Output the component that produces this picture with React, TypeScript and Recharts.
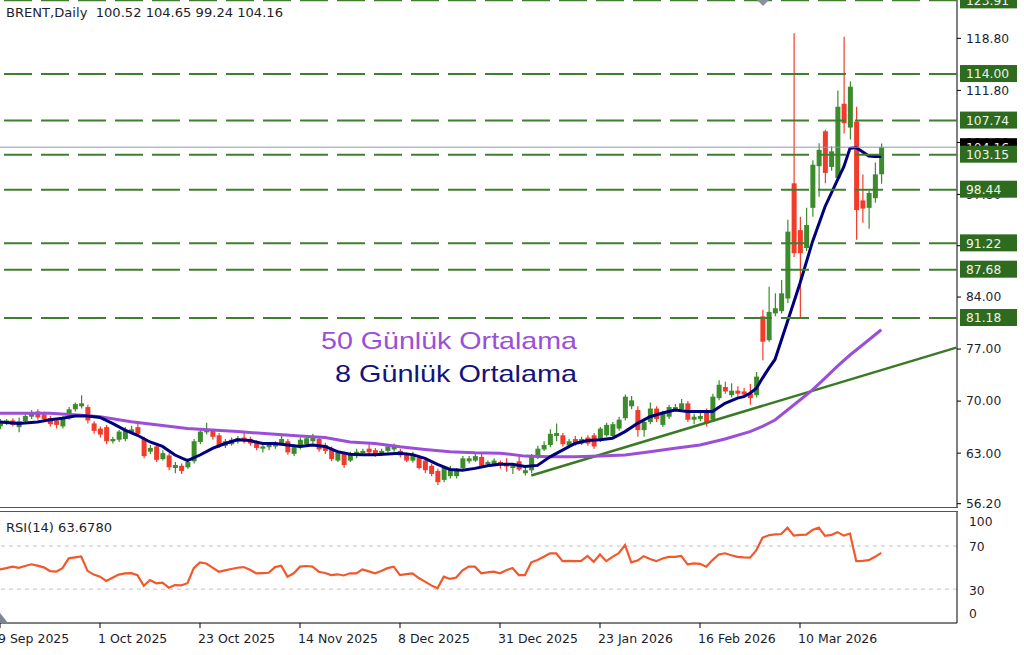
import React from 'react';
import { ComposedChart, Bar, Line, XAxis, YAxis, ReferenceLine } from 'recharts';

// daily candles, 9 Sep 2025 .. 27 Mar 2026 (bar index = position)
const opens = [
  66.6, 67.0, 67.4, 66.5, 67.3, 67.9, 68.6, 68.2, 67.7, 67.4, 66.6, 67.7, 68.9, 69.3, 69.2, 67.0, 66.3, 66.5, 64.6, 64.8,
  64.9, 65.8, 66.5, 64.9, 63.2, 63.9, 62.2, 62.7, 61.0, 61.3, 61.1, 61.9, 64.5, 65.8, 66.0, 65.4, 64.0, 64.2, 64.6, 65.1,
  64.9, 64.4, 63.6, 63.8, 63.9, 64.3, 64.6, 62.9, 63.8, 64.2, 64.6, 64.9, 64.1, 63.6, 62.0, 62.9, 62.0, 62.6, 63.0, 63.6,
  63.4, 62.8, 63.3, 63.5, 63.3, 62.8, 62.0, 62.4, 62.0, 61.3, 60.6, 59.4, 59.9, 59.9, 61.0, 61.9, 62.0, 62.5, 61.5, 61.5,
  61.8, 61.6, 61.0, 61.9, 60.3, 60.7, 62.4, 63.5, 64.1, 65.3, 65.4, 64.0, 64.9, 64.3, 65.1, 65.4, 64.8, 65.4, 65.3, 66.3,
  67.7, 69.3, 68.8, 66.1, 67.2, 69.0, 66.8, 67.9, 68.9, 68.9, 69.7, 67.5, 67.6, 68.6, 67.5, 70.4, 71.9, 70.8, 71.4, 71.3,
  71.0, 70.8, 81.4, 78.2, 81.8, 82.1, 83.8, 99.3, 93.0, 90.6, 96.0, 101.6, 106.3, 101.5, 100.0, 110.0, 106.8, 107.6, 97.0, 96.0,
  97.3, 100.52,
];
const highs = [
  67.6, 67.6, 67.7, 67.8, 68.4, 68.8, 68.9, 68.6, 68.0, 67.7, 68.0, 69.2, 69.8, 70.8, 69.5, 67.3, 66.6, 66.8, 65.2, 66.1,
  66.5, 66.7, 67.3, 65.2, 64.1, 64.2, 63.4, 63.0, 61.8, 61.6, 62.3, 64.9, 66.2, 67.1, 66.2, 65.7, 64.9, 65.1, 65.3, 65.8,
  65.2, 64.7, 64.2, 64.4, 64.6, 65.6, 64.9, 64.2, 65.1, 65.3, 65.6, 65.2, 64.4, 63.9, 63.4, 63.2, 63.2, 63.6, 63.6, 64.3,
  63.7, 63.6, 64.2, 64.3, 63.6, 63.1, 63.2, 62.7, 62.3, 61.6, 60.9, 61.3, 61.3, 61.0, 62.6, 62.6, 63.0, 63.0, 62.0, 62.3,
  62.0, 62.3, 61.6, 62.6, 61.3, 62.9, 64.0, 64.6, 66.2, 67.0, 65.7, 64.9, 65.3, 65.2, 65.4, 65.7, 66.5, 67.1, 67.2, 67.9,
  70.9, 70.7, 69.3, 67.6, 69.8, 69.3, 68.7, 69.5, 69.6, 70.3, 70.0, 68.3, 68.6, 69.0, 71.0, 72.8, 72.6, 72.4, 72.0, 71.8,
  72.3, 73.9, 82.3, 85.4, 84.5, 86.3, 94.4, 119.5, 94.8, 96.0, 102.4, 104.7, 106.5, 104.3, 111.8, 119.0, 113.0, 109.6, 100.5, 98.3,
  102.1, 104.65,
];
const lows = [
  66.2, 66.8, 66.6, 65.8, 67.0, 67.6, 67.5, 67.4, 66.6, 66.3, 66.3, 67.5, 68.6, 69.0, 67.0, 65.6, 65.1, 64.2, 64.3, 64.5,
  64.6, 65.6, 65.3, 62.3, 62.9, 61.8, 62.0, 60.7, 60.3, 60.2, 60.9, 61.6, 64.2, 65.5, 64.8, 63.7, 63.7, 64.0, 64.3, 64.3,
  64.0, 63.4, 63.1, 63.4, 63.6, 64.1, 62.8, 62.6, 63.5, 63.9, 64.3, 63.2, 62.9, 61.9, 61.8, 61.0, 61.8, 62.3, 62.7, 62.9,
  62.5, 62.6, 63.1, 63.2, 62.4, 61.8, 61.7, 60.8, 60.3, 59.9, 58.7, 59.1, 59.6, 59.6, 60.8, 61.6, 61.8, 61.0, 61.2, 61.3,
  60.9, 60.5, 60.2, 60.6, 60.0, 60.3, 62.2, 63.3, 63.8, 64.6, 63.9, 63.7, 64.0, 64.1, 64.0, 63.6, 64.5, 65.2, 65.0, 66.0,
  67.4, 68.9, 65.2, 65.2, 66.9, 67.2, 66.5, 67.6, 68.6, 68.6, 67.2, 66.9, 67.3, 66.6, 67.2, 70.1, 71.0, 70.5, 70.6, 70.5,
  69.5, 70.5, 75.5, 78.0, 81.4, 81.8, 83.2, 89.4, 81.3, 90.2, 94.8, 97.5, 99.3, 101.0, 100.0, 106.0, 105.2, 91.7, 94.0, 93.2,
  96.7, 99.24,
];
const closes = [
  67.3, 67.4, 66.8, 67.3, 68.0, 68.5, 67.8, 67.6, 66.9, 66.8, 67.7, 68.9, 69.6, 69.7, 67.4, 66.0, 65.5, 64.6, 64.9, 65.9,
  66.0, 66.2, 65.6, 62.6, 63.7, 62.1, 63.0, 61.1, 61.4, 60.6, 61.8, 64.6, 65.9, 66.1, 65.2, 64.0, 64.6, 64.8, 65.0, 64.6,
  64.3, 63.7, 63.9, 64.1, 64.4, 64.9, 63.1, 63.8, 64.8, 65.0, 65.2, 63.5, 63.3, 62.2, 63.1, 61.4, 62.9, 63.2, 63.3, 63.1,
  62.8, 63.3, 63.9, 64.1, 62.7, 62.0, 62.9, 61.0, 60.7, 60.2, 59.1, 61.0, 60.8, 60.6, 62.3, 62.3, 62.6, 61.3, 61.8, 62.0,
  61.4, 61.2, 61.3, 60.8, 60.7, 62.6, 63.6, 64.1, 65.6, 65.7, 64.2, 64.6, 64.3, 64.9, 64.3, 63.9, 66.3, 66.8, 66.9, 67.5,
  70.6, 70.1, 66.1, 67.2, 69.0, 67.6, 68.4, 69.2, 69.2, 69.7, 67.5, 67.9, 68.0, 67.0, 70.6, 72.2, 71.3, 71.4, 71.0, 70.9,
  70.4, 73.3, 78.0, 82.0, 82.5, 84.5, 92.8, 89.9, 89.9, 93.7, 101.8, 103.8, 100.7, 103.6, 109.6, 107.4, 112.3, 95.7, 95.9, 98.0,
  100.5, 104.16,
];

const rsiValues = [
  48.3, 49.5, 50.9, 49.8, 51.5, 53.1, 51.8, 50.2, 46.8, 46.2, 49.5, 58.6, 59.5, 60.3, 47.0, 43.5, 41.6, 37.6, 40.5, 43.5,
  44.7, 44.9, 43.0, 33.2, 38.5, 35.4, 36.0, 31.4, 33.8, 33.6, 35.5, 49.5, 54.9, 53.8, 50.0, 46.2, 47.5, 48.7, 49.9, 50.5,
  48.0, 44.7, 44.9, 45.2, 50.5, 51.8, 41.6, 44.7, 50.9, 51.5, 51.0, 46.2, 45.0, 43.0, 43.8, 42.7, 44.7, 44.6, 48.3, 46.5,
  44.7, 46.8, 49.5, 50.9, 43.0, 43.9, 44.7, 40.3, 37.0, 33.5, 30.8, 41.6, 39.5, 40.8, 47.5, 50.9, 50.9, 44.7, 45.5, 46.2,
  44.7, 47.5, 49.6, 43.1, 43.1, 54.9, 57.1, 60.0, 63.3, 63.3, 56.0, 56.2, 56.0, 56.3, 60.9, 55.4, 62.2, 56.0, 60.0, 63.3,
  71.0, 54.9, 56.5, 60.6, 58.0, 56.0, 58.5, 60.0, 60.0, 60.9, 53.0, 53.9, 53.5, 50.8, 57.0, 62.2, 63.3, 61.5, 60.0, 59.5,
  59.2, 66.0, 77.8, 80.0, 80.9, 81.2, 87.1, 79.7, 80.3, 80.5, 84.9, 87.1, 79.4, 80.3, 82.9, 79.7, 81.6, 56.0, 56.2, 56.9,
  60.0, 63.68,
];

// moving averages at these bars
const ma8Bars = [
  0, 3, 6, 8, 10, 12, 14, 16, 18, 20, 22, 24, 26, 28, 30, 32, 34, 36, 38, 40, 42, 44, 46, 48, 50, 52, 54, 56, 58, 60,
  62, 64, 66, 68, 70, 72, 74, 76, 78, 80, 82, 84, 86, 88, 90, 92, 94, 96, 98, 100, 102, 104, 106, 108, 110, 112, 114, 116,
  118, 119, 120, 121, 122, 123, 124, 126, 128, 130, 132, 134, 135, 136, 137, 138, 139, 140, 141,
];
const ma8Values = [
  67.2, 67.0, 67.2, 67.5, 67.7, 68.0, 68.0, 67.8, 67.0, 66.1, 65.4, 64.5, 63.9, 62.75, 62.0, 62.75, 63.65, 64.3, 64.8, 64.7,
  64.3, 64.3, 64.1, 63.9, 64.1, 63.9, 63.2, 62.85, 62.8, 62.8, 62.9, 63.0, 62.8, 62.3, 61.5, 60.8, 60.7, 60.95, 61.3, 61.5,
  61.5, 61.2, 61.35, 62.5, 63.4, 64.3, 64.7, 64.8, 65.0, 65.9, 67.0, 67.9, 68.4, 68.8, 68.6, 68.6, 68.6, 69.7,
  70.4, 70.6, 71.05, 71.7, 73.1, 74.4, 75.6, 80.7, 85.85, 91.45, 96.15, 99.75, 101.5, 104.0, 104.1, 103.55, 102.97, 102.9, 102.9,
];
const ma50Bars = [
  0, 8, 13, 16, 21, 30, 38, 48, 52, 56, 60, 64, 68, 72, 76, 80, 84, 88, 92, 96, 100, 104, 108, 112, 116, 120, 122, 124,
  126, 128, 130, 132, 134, 136, 138, 141,
];
const ma50Values = [
  68.36, 68.36, 68.1, 67.9, 67.23, 66.3, 65.9, 65.3, 65.1, 64.5, 64.3, 63.85, 63.5, 63.2, 63.06, 63.0, 62.6, 62.5, 62.5,
  62.6, 62.75, 63.2, 63.65, 64.1, 64.9, 65.9, 66.6, 67.46, 68.8, 70.15, 71.5, 73.1, 74.7, 76.2, 77.55, 79.6,
];
const trendBars = [85, 153];
const trendValues = [60.0, 77.2];

const levels = [123.91, 114.0, 107.74, 103.15, 98.44, 91.22, 87.68, 81.18];
const lastPrice = 104.16;
const priceTicks = [56.2, 63, 70, 77, 84, 90.9, 97.8, 104.8, 111.8, 118.8];
const rsiTicks = [0, 30, 70, 100];
const dateTickBars = [0, 16, 32, 48, 64, 80, 96, 112, 128];
const dateTickLabels = [
  '9 Sep 2025', '1 Oct 2025', '23 Oct 2025', '14 Nov 2025', '8 Dec 2025',
  '31 Dec 2025', '23 Jan 2026', '16 Feb 2026', '10 Mar 2026',
];

const UP = '#3c8c2c';
const DOWN = '#f33b2b';
const LEVEL = '#3f7f2f';
const TAG = '#2f6b1f';
const AXIS_FONT = '"DejaVu Sans", Verdana, sans-serif';
const X_DOMAIN = [0, 153.12];
const Y_DOMAIN = [55.62, 123.96];

const rows = Array.from({ length: 154 }, (_, i) => {
  const m8 = ma8Bars.indexOf(i);
  const m50 = ma50Bars.indexOf(i);
  const t = trendBars.indexOf(i);
  return {
    i,
    open: opens[i],
    high: highs[i],
    low: lows[i],
    close: closes[i],
    range: i < closes.length ? [lows[i], highs[i]] : undefined,
    rsi: rsiValues[i],
    ma8: m8 >= 0 ? ma8Values[m8] : undefined,
    ma50: m50 >= 0 ? ma50Values[m50] : undefined,
    trend: t >= 0 ? trendValues[t] : undefined,
  };
});

const Candle = (props: any) => {
  const { x, y, width, height, payload } = props;
  if (!payload || payload.open == null || !height) return null;
  const top = Math.min(y, y + height);
  const h = Math.abs(height);
  const k = h / (payload.high - payload.low);
  const cx = x + width / 2;
  const yo = top + (payload.high - payload.open) * k;
  const yc = top + (payload.high - payload.close) * k;
  const color = payload.close >= payload.open ? UP : DOWN;
  return (
    <g>
      <line x1={cx} x2={cx} y1={top} y2={top + h} stroke={color} strokeWidth={1.2} />
      <rect x={cx - 2.5} y={Math.min(yo, yc)} width={5} height={Math.max(1.2, Math.abs(yc - yo))} fill={color} />
    </g>
  );
};

const Tag = (props: any) => {
  const { viewBox, text, fill } = props;
  if (!viewBox) return null;
  const right = viewBox.x + viewBox.width;
  return (
    <g>
      <rect x={right + 3} y={viewBox.y - 9} width={57} height={17} fill={fill} />
      <text x={right + 9} y={viewBox.y} dy="0.36em" fill="#eef6ea" fontSize={12.3} fontFamily={AXIS_FONT}>
        {text}
      </text>
    </g>
  );
};

const DateTick = (props: any) => {
  const { x, y, payload } = props;
  const k = dateTickBars.indexOf(payload.value);
  return (
    <text x={x - 2} y={y + 13} fontSize={12.5} fontFamily={AXIS_FONT} fill="#1c1c2c" textAnchor="start">
      {dateTickLabels[k]}
    </text>
  );
};

const RsiTick = (props: any) => {
  const { x, y, payload } = props;
  const shift = payload.value === 100 ? 8 : payload.value === 0 ? -8 : 1;
  return (
    <text x={x + 4} y={y + shift} dy="0.36em" fontSize={12.3} fontFamily={AXIS_FONT} fill="#1c1c2c" textAnchor="start">
      {payload.value}
    </text>
  );
};

const App: React.FC = () => {
  return (
    <div style={{ position: 'absolute', left: 0, top: 0, width: 1024, height: 655, background: '#fff', overflow: 'hidden' }}>
      {/* price panel: candles, averages, axis */}
      <div style={{ position: 'absolute', left: 0, top: 0 }}>
        <ComposedChart width={1024} height={516} data={rows} margin={{ top: 0, right: 0, left: 0, bottom: 8 }}>
          <XAxis dataKey="i" type="number" domain={X_DOMAIN} hide allowDataOverflow />
          <YAxis
            orientation="right"
            width={67}
            domain={Y_DOMAIN}
            allowDataOverflow
            ticks={priceTicks}
            interval={0}
            tickFormatter={(v: number) => v.toFixed(2)}
            tick={{ fill: '#1c1c2c', fontSize: 12.3, fontFamily: AXIS_FONT }}
            tickSize={4}
            tickMargin={5}
            axisLine={{ stroke: '#000' }}
            tickLine={{ stroke: '#000' }}
          />
          <Bar dataKey="range" barSize={5} shape={<Candle />} isAnimationActive={false} />
          <Line dataKey="trend" stroke="#3b7a25" strokeWidth={2.5} dot={false} connectNulls isAnimationActive={false} />
          <Line dataKey="ma50" stroke="#9b4fd8" strokeWidth={3} dot={false} connectNulls isAnimationActive={false} />
          <Line dataKey="ma8" stroke="#00007f" strokeWidth={3} dot={false} connectNulls isAnimationActive={false} />
        </ComposedChart>
      </div>

      {/* level lines and their price tags, drawn above the axis labels */}
      <div style={{ position: 'absolute', left: 0, top: 0 }}>
        <ComposedChart width={1024} height={516} data={rows} margin={{ top: 0, right: 0, left: 0, bottom: 8 }}>
          <XAxis dataKey="i" type="number" domain={X_DOMAIN} hide allowDataOverflow />
          <YAxis orientation="right" width={67} domain={Y_DOMAIN} allowDataOverflow tick={false} tickLine={false} axisLine={false} />
          <ReferenceLine y={lastPrice} stroke="#8c9bb0" strokeWidth={1} label={<Tag text={lastPrice.toFixed(2)} fill="#000" />} />
          {levels.map((v) => (
            <ReferenceLine
              key={v}
              y={v}
              stroke={LEVEL}
              strokeWidth={2}
              strokeDasharray="28 9"
              label={<Tag text={v.toFixed(2)} fill={TAG} />}
            />
          ))}
        </ComposedChart>
      </div>

      {/* RSI panel */}
      <div style={{ position: 'absolute', left: 0, top: 512 }}>
        <ComposedChart width={1024} height={143} data={rows} margin={{ top: 0, right: 0, left: 0, bottom: 0 }}>
          <XAxis
            dataKey="i"
            type="number"
            domain={X_DOMAIN}
            allowDataOverflow
            ticks={dateTickBars}
            interval={0}
            height={32}
            tick={<DateTick />}
            tickSize={5}
            axisLine={{ stroke: '#000' }}
            tickLine={{ stroke: '#000' }}
          />
          <YAxis
            orientation="right"
            width={67}
            domain={[-1.4, 101.6]}
            allowDataOverflow
            ticks={rsiTicks}
            interval={0}
            tick={<RsiTick />}
            tickLine={false}
            axisLine={{ stroke: '#000' }}
          />
          <ReferenceLine y={70} stroke="#c4c4c4" strokeDasharray="4 4" />
          <ReferenceLine y={30} stroke="#c4c4c4" strokeDasharray="4 4" />
          <Line dataKey="rsi" stroke="#f2582a" strokeWidth={2.2} dot={false} isAnimationActive={false} />
        </ComposedChart>
      </div>

      {/* panel separators */}
      <div style={{ position: 'absolute', left: 0, top: 507, width: 958, height: 1, background: '#555' }} />
      <div style={{ position: 'absolute', left: 0, top: 511, width: 958, height: 1, background: '#555' }} />

      <svg width={1024} height={655} style={{ position: 'absolute', left: 0, top: 0, pointerEvents: 'none' }}>
        <text x={6} y={16.5} fontSize={13} fontFamily={AXIS_FONT} fill="#1e1e2a" textLength={277} lengthAdjust="spacingAndGlyphs" style={{ whiteSpace: 'pre' }}>
          BRENT,Daily  100.52 104.65 99.24 104.16
        </text>
        <text x={6} y={532} fontSize={13} fontFamily={AXIS_FONT} fill="#1e1e2a" textLength={106} lengthAdjust="spacingAndGlyphs">
          RSI(14) 63.6780
        </text>
        <text x={321} y={348.5} fontSize={24} fontFamily="'Liberation Sans', Arial, sans-serif" fill="#9b4fd8" textLength={256} lengthAdjust="spacingAndGlyphs">
          50 Günlük Ortalama
        </text>
        <text x={335} y={382} fontSize={24} fontFamily="'Liberation Sans', Arial, sans-serif" fill="#13137e" textLength={242} lengthAdjust="spacingAndGlyphs">
          8 Günlük Ortalama
        </text>
        <polygon points="757,0 769,0 763,6" fill="#8a8f99" />
        <polygon points="0,613 8,623 0,623" fill="#7c8590" />
      </svg>
    </div>
  );
};

export default App;
